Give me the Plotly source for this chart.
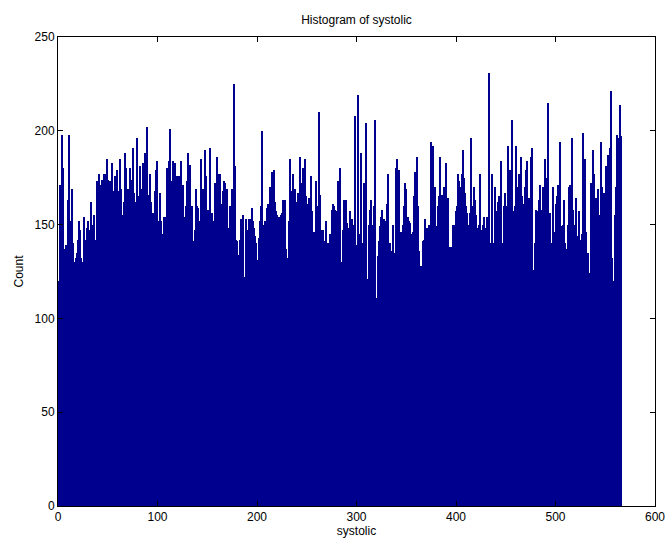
import plotly.graph_objects as go

# counts per bin (bins of width 1 starting at 0)
counts_a = [120,155,171,162,198,180,126,137,139,137,163,198,146,152,169,140,130,117,132,135,
            142,152,147,132,115,130,154,135,142,148,152,138,147,162,142,150,155,142,117,173,
            168,177,171,162,174,168,177]
counts_b = [177,162,185,174,152,173,147,183,161,168,176,152,179,154,168,185,169,137,155,162,
            188,180,143,169,157,180,142,174,191,167,148,162,196,165,152,181,169,155,183,173,
            188,178,202,166,145,177,162]
counts_c = [133,156,150,168,179,184,131,152,167,152,145,142,154,150,154,180,168,184,201,173,
            170,184,178,183,156,176,162,176,168,184,124,171,154,130,160,173,188,162,182,152,
            160,141,122,147,169,160,159]
counts_d = [128,152,185,162,169,152,190,176,153,158,147,191,131,156,152,152,172,162,186,177,
            157,177,141,161,168,173,172,162,169,148,142,160,147,169,152,225,181,142,141,129,
            134,142,153,146,155,106,122,153,142,147,153]
counts_e = [153,142,159,152,148,144,140,136,131,116,143,152,160,200,150,140,152,152,159,161,
            140,170,162,178,138,179,162,157,155,133,154,126,155,156,163,152,163,137,114,132,
            152,185,168,162,177,141,169,162]
counts_f = [140,167,150,186,130,172,180,177,185,165,161,135,164,101,176,157,145,146,146,173,
            120,160,210,166,147,115,147,141,139,152,113,140,104,145,114,158,161,160,158,145,
            157,173,125,180,130,130,147,163,160]
counts_g = [163,151,148,140,157,120,153,150,120,208,139,137,219,137,145,188,140,140,172,160,
            204,121,115,150,158,163,150,143,160,206,105,111,133,141,149,154,158,142,153,135,
            152,161,177,135,140,133,136]
counts_h = [150,135,111,180,185,150,179,130,146,141,150,160,172,169,113,154,152,151,140,145,
            146,165,178,168,186,160,136,118,128,110,141,142,153,142,148,148,150,148,194,160,
            192,165,170,120,149,160,165,186,160]
counts_i = [166,155,170,160,183,150,164,138,138,113,138,150,130,150,157,160,173,177,173,157,
            170,177,190,175,167,160,156,150,140,156,196,153,160,170,163,155,148,141,150,177,
            129,147,150,154,148,141,154,150]
counts_j = [231,140,111,177,107,140,170,157,135,162,165,140,184,140,130,160,167,150,160,192,
            170,179,124,206,157,155,160,192,170,167,177,160,186,165,125,161,170,179,184,130,
            164,150,186,191,125,126,140,158]
counts_k = [157,149,163,171,158,130,170,168,185,175,140,215,156,156,140,126,170,146,128,161,
            165,171,160,194,149,137,150,163,140,137,110,150,170,171,165,196,158,150,130,164,
            128,144,157,140,142,145,199,170]
counts_l = [185,146,130,135,124,106,172,160,190,177,150,164,148,169,155,144,194,170,146,167,
            160,181,158,187,148,191,221,132,120,110,155,170,198,186,196,214,197]

counts = (counts_a + counts_b + counts_c + counts_d + counts_e + counts_f +
          counts_g + counts_h + counts_i + counts_j + counts_k + counts_l)
bins = list(range(len(counts)))

x_ticks = [0, 100, 200, 300, 400, 500, 600]
y_ticks = [0, 50, 100, 150, 200, 250]

font = dict(family="Liberation Sans, Arial, sans-serif", size=12, color="black")

fig = go.Figure()
fig.add_bar(x=bins, y=counts, width=1, offset=0,
            marker=dict(color="#00008f", line=dict(width=0)))

axis_style = dict(showline=True, linecolor="black", linewidth=1, mirror="ticks",
                  ticks="inside", ticklen=5, tickcolor="black", showgrid=False,
                  zeroline=False, tickfont=font, automargin=False)

fig.update_xaxes(range=[0, 600], tickvals=x_ticks, title=dict(text="systolic", font=font, standoff=2),
                 **axis_style)
fig.update_yaxes(range=[0, 250], tickvals=y_ticks, title=dict(text="Count", font=font, standoff=8),
                 **axis_style)

fig.update_layout(width=666, height=541, bargap=0,
                  margin=dict(l=58, r=11, t=37, b=35),
                  paper_bgcolor="white", plot_bgcolor="white",
                  showlegend=False, font=font,
                  title=dict(text="Histogram of systolic", font=font, x=0.5, xref="paper",
                             xanchor="center", y=1 - 20 / 541, yanchor="middle"))

# drop the default page margin so the figure sits at the window's corner
fig.write_html("out.html", config={"displayModeBar": False},
               post_script="document.body.style.margin='0';")
